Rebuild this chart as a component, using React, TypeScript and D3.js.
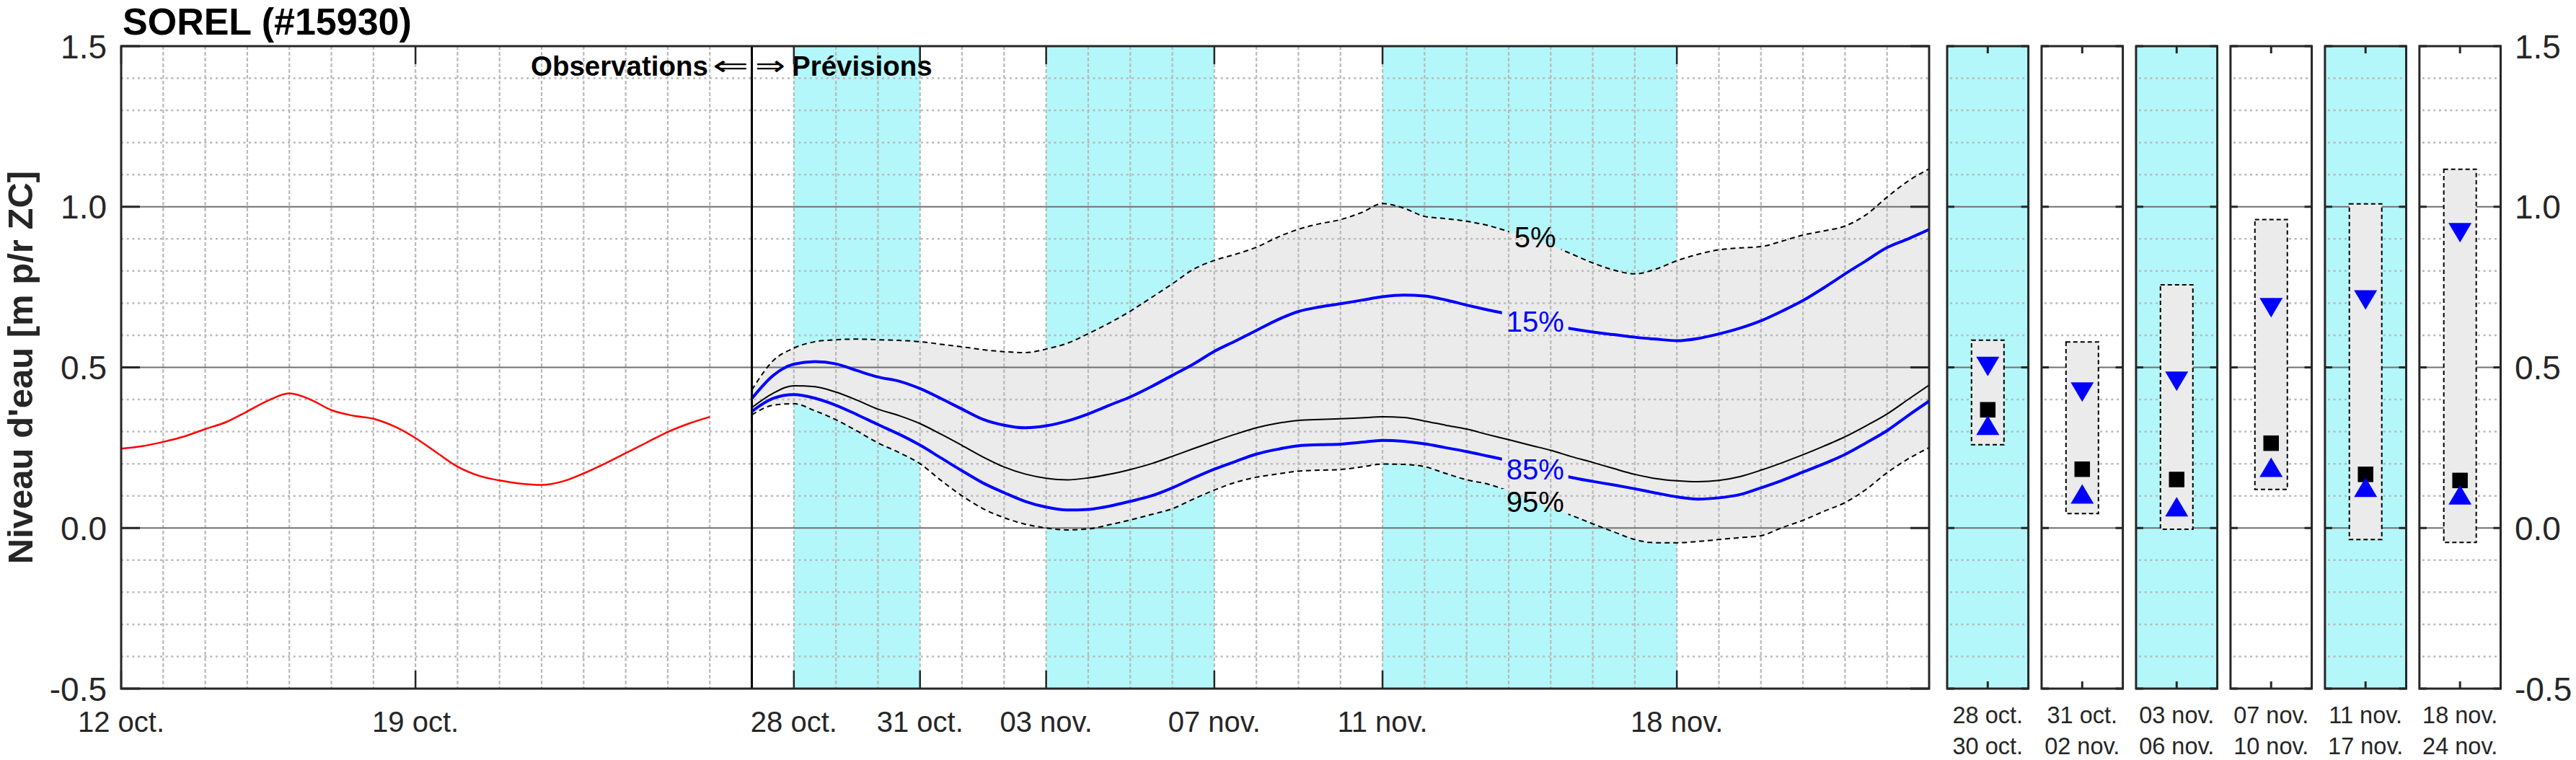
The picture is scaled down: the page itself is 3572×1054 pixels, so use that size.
import React from 'react';
import * as d3 from 'd3';

const W = 3572;
const H = 1054;

// ---- observations (days since 12 oct.) ----
const obsDays = [0, 0.5, 1, 1.5, 2, 2.5, 3, 3.5, 4, 4.5, 5, 5.5, 6, 6.5, 7, 7.5, 8, 8.5, 9, 9.5, 10, 10.5, 11, 11.5, 12, 12.5, 13, 13.5, 14];
const obsLevel = [0.247, 0.255, 0.268, 0.285, 0.308, 0.330, 0.363, 0.397, 0.419, 0.400, 0.367, 0.350, 0.340, 0.316, 0.280, 0.235, 0.191, 0.163, 0.148, 0.138, 0.134, 0.145, 0.170, 0.200, 0.233, 0.266, 0.299, 0.325, 0.346];

// ---- forecast (days since 12 oct., half-day steps from 27 oct. to 24 nov.) ----
const fcDays = d3.range(15, 43.01, 0.5);
const q05 = [0.43, 0.52, 0.56, 0.58, 0.586, 0.588, 0.586, 0.584, 0.580, 0.572,
  0.564, 0.555, 0.549, 0.546, 0.557, 0.575, 0.605, 0.638, 0.675, 0.717,
  0.760, 0.805, 0.833, 0.852, 0.874, 0.905, 0.930, 0.947, 0.960, 0.982,
  1.010, 0.996, 0.970, 0.963, 0.955, 0.942, 0.923, 0.902, 0.880, 0.853,
  0.825, 0.803, 0.791, 0.806, 0.832, 0.852, 0.866, 0.872, 0.876, 0.893,
  0.912, 0.925, 0.940, 0.975, 1.030, 1.080, 1.118];
const q15 = [0.403, 0.474, 0.510, 0.518, 0.511, 0.490, 0.470, 0.457, 0.434, 0.403,
  0.370, 0.338, 0.320, 0.312, 0.318, 0.333, 0.355, 0.382, 0.408, 0.440,
  0.475, 0.510, 0.550, 0.582, 0.615, 0.648, 0.674, 0.688, 0.698, 0.709,
  0.720, 0.725, 0.722, 0.710, 0.694, 0.679, 0.665, 0.648, 0.632, 0.620,
  0.610, 0.602, 0.594, 0.588, 0.583, 0.590, 0.604, 0.622, 0.645, 0.675,
  0.708, 0.748, 0.791, 0.832, 0.873, 0.900, 0.929];
const q50 = [0.375, 0.419, 0.443, 0.440, 0.423, 0.398, 0.370, 0.350, 0.325, 0.292,
  0.257, 0.221, 0.190, 0.168, 0.155, 0.150, 0.156, 0.167, 0.182, 0.200,
  0.223, 0.247, 0.270, 0.292, 0.312, 0.326, 0.335, 0.338, 0.340, 0.343,
  0.346, 0.344, 0.333, 0.320, 0.308, 0.291, 0.275, 0.258, 0.242, 0.222,
  0.204, 0.185, 0.167, 0.154, 0.147, 0.144, 0.148, 0.160, 0.180, 0.203,
  0.228, 0.255, 0.284, 0.318, 0.355, 0.400, 0.445];
const q85 = [0.363, 0.403, 0.415, 0.404, 0.382, 0.353, 0.322, 0.292, 0.258, 0.218,
  0.178, 0.140, 0.110, 0.083, 0.065, 0.056, 0.058, 0.068, 0.083, 0.100,
  0.125, 0.155, 0.183, 0.207, 0.230, 0.245, 0.256, 0.259, 0.261, 0.267,
  0.273, 0.270, 0.262, 0.250, 0.238, 0.224, 0.210, 0.195, 0.175, 0.157,
  0.145, 0.134, 0.122, 0.109, 0.097, 0.090, 0.094, 0.104, 0.125, 0.148,
  0.174, 0.200, 0.229, 0.265, 0.303, 0.350, 0.395];
const q95 = [0.352, 0.382, 0.387, 0.365, 0.337, 0.302, 0.265, 0.235, 0.200, 0.148,
  0.100, 0.060, 0.032, 0.012, 0.000, -0.006, -0.003, 0.010, 0.025, 0.042,
  0.060, 0.090, 0.118, 0.142, 0.158, 0.168, 0.177, 0.180, 0.182, 0.190,
  0.199, 0.198, 0.191, 0.170, 0.150, 0.137, 0.115, 0.090, 0.062, 0.039,
  0.013, -0.012, -0.036, -0.046, -0.046, -0.042, -0.036, -0.030, -0.024, 0.001,
  0.024, 0.052, 0.079, 0.120, 0.172, 0.215, 0.250];

// ---- axis ticks ----
const xTickDays = [0, 7, 16, 19, 22, 26, 30, 37];
const xTickLabels = ['12 oct.', '19 oct.', '28 oct.', '31 oct.', '03 nov.', '07 nov.', '11 nov.', '18 nov.'];
const yTicks = [-0.5, 0, 0.5, 1.0, 1.5];
const yTickLabels = ['-0.5', '0.0', '0.5', '1.0', '1.5'];
const obsEndDay = 15;

// ---- forecast periods (side panels) ----
const periodStartDay = [16, 19, 22, 26, 30, 37];
const periodEndDay = [19, 22, 26, 30, 37, 43];
const periodFrom = ['28 oct.', '31 oct.', '03 nov.', '07 nov.', '11 nov.', '18 nov.'];
const periodTo = ['30 oct.', '02 nov.', '06 nov.', '10 nov.', '17 nov.', '24 nov.'];
const periodShaded = [true, false, true, false, true, false];
const perHigh = [0.585, 0.579, 0.757, 0.960, 1.009, 1.117];
const perLow = [0.259, 0.045, -0.004, 0.120, -0.036, -0.045];
const perQ15 = [0.503, 0.423, 0.457, 0.686, 0.710, 0.919];
const perMed = [0.368, 0.183, 0.151, 0.264, 0.167, 0.148];
const perQ85 = [0.320, 0.106, 0.066, 0.189, 0.127, 0.103];

const FONT = '"Liberation Sans", Arial, Helvetica, sans-serif';
const AX = '#262626';
const CYAN = '#b3f7fa';
const FILL = '#ebebeb';
const MINOR = '#b9b9b9';
const MAJOR = '#707070';

export default function App() {
  const x = d3.scaleLinear().domain([0, 43]).range([168, 2675]);
  const y = d3.scaleLinear().domain([-0.5, 1.5]).range([955, 64]);
  const top = y(1.5), bot = y(-0.5), left = x(0), right = x(43);

  const side = d3.scaleBand<string>().domain(periodFrom).range([2700, 3467.5]).paddingInner(0.14);
  const bw = side.bandwidth();

  const lineGen = (vals: number[], days: number[]) =>
    d3.line<number>().x((_, i) => x(days[i])).y(d => y(d)).curve(d3.curveMonotoneX)(vals) || '';
  const areaGen = d3.area<number>()
    .x((_, i) => x(fcDays[i]))
    .y0((_, i) => y(q95[i]))
    .y1(d => y(d))
    .curve(d3.curveMonotoneX);

  const minorY = d3.range(-4, 15).filter(k => k % 5 !== 0).map(k => k / 10);
  const majorY = [0, 0.5, 1.0];
  const dayLines = d3.range(1, 43);

  const lblX = x(33.63);
  const labels = [
    { t: '5%', yc: 329, c: '#000' },
    { t: '15%', yc: 446, c: '#0000ff' },
    { t: '85%', yc: 651, c: '#0000ff' },
    { t: '95%', yc: 696, c: '#000' },
  ];

  const tri = (cx: number, cy: number, down: boolean) => {
    const hw = 16, hh = 13.5;
    return down
      ? `M${cx - hw},${cy - hh}L${cx + hw},${cy - hh}L${cx},${cy + hh}Z`
      : `M${cx - hw},${cy + hh}L${cx + hw},${cy + hh}L${cx},${cy - hh}Z`;
  };

  return (
    <svg width={W} height={H} viewBox={`0 0 ${W} ${H}`} style={{ position: 'absolute', left: 0, top: 0, background: '#fff' }} fontFamily={FONT}>
      <defs>
        <mask id="lblMask" maskUnits="userSpaceOnUse" x={0} y={0} width={W} height={H}>
          <rect x={0} y={0} width={W} height={H} fill="white" />
          {labels.map((l, i) => (
            <rect key={i} x={lblX - (l.t.length === 2 ? 36 : 46)} y={l.yc - 18} width={l.t.length === 2 ? 72 : 92} height={36} fill="black" />
          ))}
        </mask>
        <clipPath id="mainClip"><rect x={left} y={top} width={right - left} height={bot - top} /></clipPath>
      </defs>

      {/* title */}
      <text x={170} y={48} fontSize={52} fontWeight="bold" fill="#000">SOREL (#15930)</text>

      {/* y label */}
      <text transform={`translate(45,${(top + bot) / 2}) rotate(-90)`} textAnchor="middle" fontSize={49} fontWeight="bold" fill={AX}>Niveau d'eau [m p/r ZC]</text>

      {/* main panel */}
      <rect x={left} y={top} width={right - left} height={bot - top} fill="#fff" />
      <g clipPath="url(#mainClip)">
        {periodStartDay.map((s, i) => periodShaded[i] ? (
          <rect key={i} x={x(s)} y={top} width={x(periodEndDay[i]) - x(s)} height={bot - top} fill={CYAN} />
        ) : null)}
        <path d={areaGen(q05) || ''} fill={FILL} />
        {/* grid */}
        {dayLines.map(d => (
          <line key={'v' + d} x1={x(d)} x2={x(d)} y1={top} y2={bot} stroke={MINOR} strokeWidth={2.2} strokeDasharray="5,3" />
        ))}
        {minorY.map(v => (
          <line key={'h' + v} x1={left} x2={right} y1={y(v)} y2={y(v)} stroke={MINOR} strokeWidth={2.5} strokeDasharray="3,4.7" />
        ))}
        {majorY.map(v => (
          <line key={'m' + v} x1={left} x2={right} y1={y(v)} y2={y(v)} stroke={MAJOR} strokeWidth={2} />
        ))}
        {/* curves */}
        <path d={lineGen(obsLevel, obsDays)} fill="none" stroke="#ff0000" strokeWidth={2.5} />
        <g mask="url(#lblMask)">
          <path d={lineGen(q05, fcDays)} fill="none" stroke="#000" strokeWidth={2} strokeDasharray="7,5" />
          <path d={lineGen(q95, fcDays)} fill="none" stroke="#000" strokeWidth={2} strokeDasharray="7,5" />
          <path d={lineGen(q15, fcDays)} fill="none" stroke="#0000ff" strokeWidth={4} />
          <path d={lineGen(q85, fcDays)} fill="none" stroke="#0000ff" strokeWidth={4} />
        </g>
        <path d={lineGen(q50, fcDays)} fill="none" stroke="#000" strokeWidth={2} />
        <line x1={x(obsEndDay)} x2={x(obsEndDay)} y1={top} y2={bot} stroke="#000" strokeWidth={3} />
      </g>
      {labels.map((l, i) => (
        <text key={i} x={lblX} y={l.yc + 14} textAnchor="middle" fontSize={40} fill={l.c}>{l.t}</text>
      ))}
      {/* observations / prévisions */}
      <text x={982} y={105} textAnchor="end" fontSize={38.5} fontWeight="bold" fill="#000">Observations</text>
      <text x={988} y={104} fontSize={38} fill="#000" fontFamily='"DejaVu Sans", sans-serif' textLength={50} lengthAdjust="spacingAndGlyphs">⇐</text>
      <text x={1047} y={104} fontSize={38} fill="#000" fontFamily='"DejaVu Sans", sans-serif' textLength={42} lengthAdjust="spacingAndGlyphs">⇒</text>
      <text x={1098} y={105} fontSize={38.5} fontWeight="bold" fill="#000">Prévisions</text>

      {/* main axes box & ticks */}
      <rect x={left} y={top} width={right - left} height={bot - top} fill="none" stroke={AX} strokeWidth={3} />
      {yTicks.map(v => (
        <g key={'yt' + v}>
          <line x1={left} x2={left + 26} y1={y(v)} y2={y(v)} stroke={AX} strokeWidth={3} />
          <line x1={right - 26} x2={right} y1={y(v)} y2={y(v)} stroke={AX} strokeWidth={3} />
        </g>
      ))}
      {xTickDays.map((d, i) => (
        <g key={'xt' + d}>
          <line x1={x(d)} x2={x(d)} y1={bot} y2={bot - 25} stroke={AX} strokeWidth={2.5} />
          <line x1={x(d)} x2={x(d)} y1={top} y2={top + 25} stroke={AX} strokeWidth={2.5} />
          <text x={x(d)} y={1015} textAnchor="middle" fontSize={40} fill={AX}>{xTickLabels[i]}</text>
        </g>
      ))}
      {yTicks.map((v, i) => (
        <text key={'yl' + v} x={148} y={y(v) + 16.5} textAnchor="end" fontSize={46} fill={AX}>{yTickLabels[i]}</text>
      ))}

      {/* side panels */}
      {periodFrom.map((p, i) => {
        const px = side(p) as number;
        const cx = px + bw / 2;
        const bxw = 45;
        return (
          <g key={'p' + i}>
            <rect x={px} y={top} width={bw} height={bot - top} fill={periodShaded[i] ? CYAN : '#fff'} />
            {minorY.map(v => (
              <line key={'sh' + v} x1={px + 4} x2={px + bw - 4} y1={y(v)} y2={y(v)} stroke={MINOR} strokeWidth={2.5} strokeDasharray="3,4.7" />
            ))}
            {majorY.map(v => (
              <line key={'sm' + v} x1={px} x2={px + bw} y1={y(v)} y2={y(v)} stroke={MAJOR} strokeWidth={2} />
            ))}
            <rect x={cx - bxw / 2} y={y(perHigh[i])} width={bxw} height={y(perLow[i]) - y(perHigh[i])} fill={FILL} stroke="#000" strokeWidth={2} strokeDasharray="6,4" />
            <rect x={cx - 10.75} y={y(perMed[i]) - 10.75} width={21.5} height={21.5} fill="#000" />
            <path d={tri(cx, y(perQ15[i]), true)} fill="#0000ff" />
            <path d={tri(cx, y(perQ85[i]), false)} fill="#0000ff" />
            <rect x={px} y={top} width={bw} height={bot - top} fill="none" stroke={AX} strokeWidth={3} />
            {yTicks.map(v => (
              <g key={'st' + v}>
                <line x1={px} x2={px + 10} y1={y(v)} y2={y(v)} stroke={AX} strokeWidth={3} />
                <line x1={px + bw - 10} x2={px + bw} y1={y(v)} y2={y(v)} stroke={AX} strokeWidth={3} />
              </g>
            ))}
            <line x1={cx} x2={cx} y1={bot} y2={bot - 10} stroke={AX} strokeWidth={3} />
            <line x1={cx} x2={cx} y1={top} y2={top + 10} stroke={AX} strokeWidth={3} />
            <text x={cx} y={1003} textAnchor="middle" fontSize={32.5} fill={AX}>{periodFrom[i]}</text>
            <text x={cx} y={1046} textAnchor="middle" fontSize={32.5} fill={AX}>{periodTo[i]}</text>
          </g>
        );
      })}
      {yTicks.map((v, i) => (
        <text key={'yr' + v} x={3487} y={y(v) + 16.5} fontSize={46} fill={AX}>{yTickLabels[i]}</text>
      ))}
    </svg>
  );
}
